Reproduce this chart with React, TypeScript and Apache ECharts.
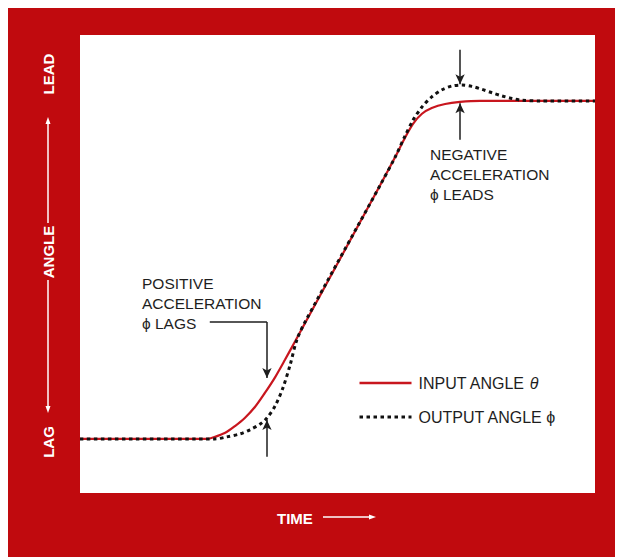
import React, { useEffect, useRef } from "react";
import * as echarts from "echarts";

// Input angle θ (red) — time vs angle (0 = lag level, 100 = lead level)
const inputTime = [0, 24.7, 26.2, 28.2, 30.1, 32.0, 34.0, 35.9, 37.9, 39.8, 41.7, 58.3, 61.2, 63.1, 64.7, 66.4, 68.3, 70.9, 73.8, 77.7, 100];
const inputAngle = [0, 0, 0.6, 1.8, 3.8, 6.2, 9.5, 13.6, 18.3, 23.4, 28.7, 75.1, 83.4, 89.1, 93.3, 96.2, 97.9, 99.1, 99.7, 100, 100];

// Output angle ϕ (dotted)
const outputTime = [0, 26.2, 28.5, 31.1, 33.0, 35.0, 36.3, 37.9, 39.4, 40.8, 42.1, 43.7, 58.3, 61.2, 63.1, 64.7, 66.4, 68.3, 70.3, 72.2, 74.2, 76.1, 78.1, 80.0, 81.9, 83.9, 85.8, 89.3, 100];
const outputAngle = [0, 0, 0.6, 1.5, 2.7, 4.4, 6.2, 9.8, 15.1, 21.9, 29.3, 34.6, 75.1, 83.4, 89.6, 94.4, 98.2, 101.2, 103.3, 104.4, 104.7, 104.3, 103.4, 102.4, 101.5, 100.7, 100.2, 100, 100];

const seriesNames = ["INPUT ANGLE θ", "OUTPUT ANGLE ϕ"];
const axisWords = ["LEAD", "ANGLE", "LAG"];
const timeWord = "TIME";
const positiveNote = "POSITIVE\nACCELERATION\nϕ LAGS";
const negativeNote = "NEGATIVE\nACCELERATION\nϕ LEADS";

// annotation arrows in data units [x1, y1, x2, y2] (arrow at the second point)
const leaderPositive = [25.2, 34.6, 36.3, 34.6];
const arrowPositiveDown = [36.3, 34.6, 36.3, 18.0];
const arrowPositiveUp = [36.3, -5.3, 36.3, 5.6];
const arrowNegativeDown = [73.8, 115.1, 73.8, 104.9];
const arrowNegativeUp = [73.8, 88.5, 73.8, 99.3];

const RED = "#c00a0e";
const LINE_RED = "#c8161e";
const INK = "#1e1e1e";
const FONT = "'Liberation Sans', Arial, sans-serif";

function seg(a: number[], arrow: boolean) {
  return [
    { coord: [a[0], a[1]], symbol: "none" },
    { coord: [a[2], a[3]], symbol: arrow ? "arrow" : "none" },
  ];
}

export default function App() {
  const ref = useRef<HTMLDivElement>(null);
  useEffect(() => {
    if (!ref.current) return;
    const chart = echarts.init(ref.current, undefined, { renderer: "svg" });
    const whiteText = (text: string, x: number, y: number, rot: number) => ({
      type: "text",
      x,
      y,
      rotation: rot,
      style: {
        text,
        fill: "#ffffff",
        font: `bold 15px ${FONT}`,
        textAlign: "center",
        textVerticalAlign: "middle",
      },
    });
    chart.setOption({
      animation: false,
      backgroundColor: RED,
      grid: {
        left: 72,
        top: 27,
        width: 515,
        height: 458,
        show: true,
        backgroundColor: "#ffffff",
        borderWidth: 0,
      },
      xAxis: { type: "value", min: 0, max: 100, show: false },
      yAxis: { type: "value", min: -16, max: 119.5, show: false },
      legend: {
        orient: "vertical",
        left: 345,
        top: 362,
        itemWidth: 52,
        itemHeight: 14,
        itemGap: 18,
        selectedMode: false,
        itemStyle: { opacity: 0 },
        formatter: (name: string) => name.replace("θ", "{it|θ}"),
        textStyle: {
          color: INK,
          fontSize: 16,
          fontFamily: FONT,
          padding: [0, 0, 0, 2],
          rich: { it: { fontStyle: "italic", fontSize: 16, fontFamily: FONT, color: INK } },
        },
        data: [
          { name: seriesNames[0], lineStyle: { color: LINE_RED, width: 2.5 } },
          { name: seriesNames[1], lineStyle: { color: "#111111", width: 3, type: [3.5, 3.5] } },
        ],
      },
      series: [
        {
          name: seriesNames[0],
          type: "line",
          data: inputTime.map((t, i) => [t, inputAngle[i]]),
          smooth: 0.3,
          symbol: "none",
          lineStyle: { color: LINE_RED, width: 2.2 },
          itemStyle: { color: LINE_RED },
          z: 2,
        },
        {
          name: seriesNames[1],
          type: "line",
          data: outputTime.map((t, i) => [t, outputAngle[i]]),
          smooth: 0.3,
          symbol: "none",
          lineStyle: { color: "#111111", width: 3, type: [3.5, 3.5] },
          itemStyle: { color: "#111111" },
          z: 3,
          markLine: {
            silent: true,
            animation: false,
            symbol: ["none", "arrow"],
            symbolSize: [7, 10],
            label: { show: false },
            lineStyle: { color: INK, width: 1.5, type: "solid" },
            emphasis: { disabled: true },
            data: [
              seg(leaderPositive, false),
              seg(arrowPositiveDown, true),
              seg(arrowPositiveUp, true),
              seg(arrowNegativeDown, true),
              seg(arrowNegativeUp, true),
            ],
          },
        },
      ],
      graphic: [
        whiteText(axisWords[0], 40, 66, Math.PI / 2),
        whiteText(axisWords[1], 40, 244, Math.PI / 2),
        whiteText(axisWords[2], 40, 434, Math.PI / 2),
        { type: "line", shape: { x1: 40, y1: 114, x2: 40, y2: 215 }, style: { stroke: "#fff", lineWidth: 1.5 } },
        { type: "polygon", shape: { points: [[40, 109], [37.5, 116], [42.5, 116]] }, style: { fill: "#fff" } },
        { type: "line", shape: { x1: 40, y1: 272, x2: 40, y2: 400 }, style: { stroke: "#fff", lineWidth: 1.5 } },
        { type: "polygon", shape: { points: [[40, 405], [37.5, 398], [42.5, 398]] }, style: { fill: "#fff" } },
        {
          type: "text",
          x: 269,
          y: 510,
          style: { text: timeWord, fill: "#fff", font: `bold 15px ${FONT}`, textAlign: "left", textVerticalAlign: "middle" },
        },
        { type: "line", shape: { x1: 315, y1: 509, x2: 362, y2: 509 }, style: { stroke: "#fff", lineWidth: 1.5 } },
        { type: "polygon", shape: { points: [[368, 509], [361, 506.5], [361, 511.5]] }, style: { fill: "#fff" } },
        {
          type: "text",
          x: 134,
          y: 265,
          z: 10,
          style: { text: positiveNote, fill: INK, font: `15.5px ${FONT}`, lineHeight: 20, textAlign: "left", textVerticalAlign: "top" },
        },
        {
          type: "text",
          x: 422,
          y: 136,
          z: 10,
          style: { text: negativeNote, fill: INK, font: `15.5px ${FONT}`, lineHeight: 20, textAlign: "left", textVerticalAlign: "top" },
        },
      ],
    });
    return () => chart.dispose();
  }, []);
  return (
    <div
      ref={ref}
      style={{ position: "absolute", left: 8, top: 8, width: 607, height: 549 }}
    />
  );
}
